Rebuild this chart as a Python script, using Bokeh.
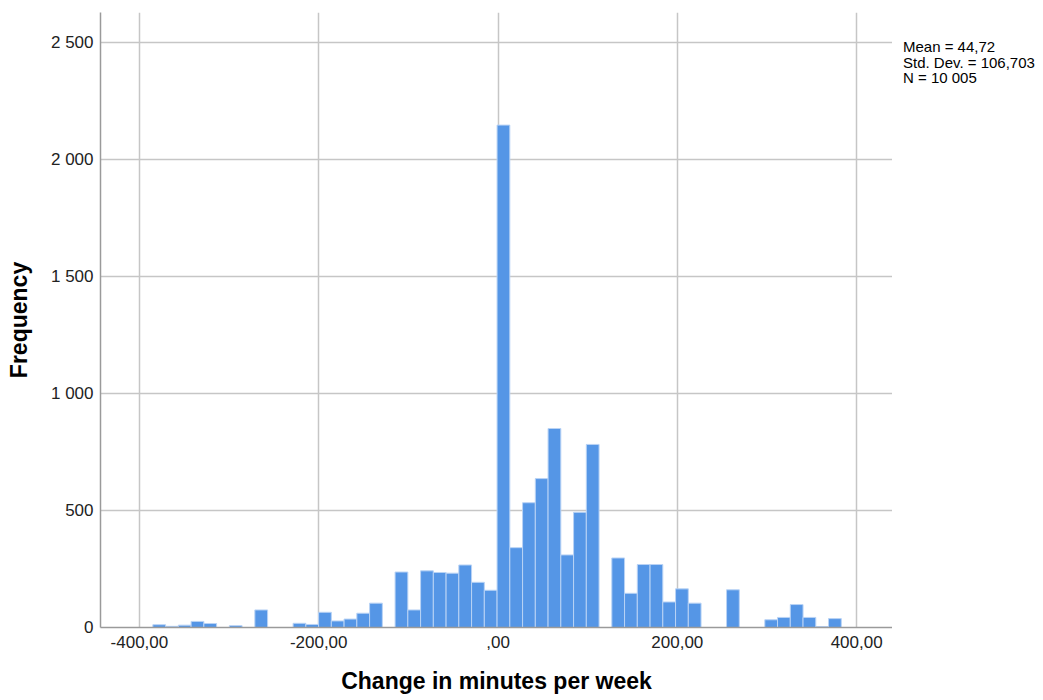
from bokeh.plotting import figure
from bokeh.models import FixedTicker, Range1d, ColumnDataSource, Div
from bokeh.layouts import row
from bokeh.embed import file_html
from bokeh.resources import INLINE

# ---- data ----
bin_left_edge = -385.0
bin_width = 14.22
counts = [12, 5, 10, 26, 17, 0, 8, 0, 75, 0, 0, 18, 13, 65, 28, 36, 61, 104, 0,
          237, 75, 242, 235, 232, 267, 193, 159,
          2146, 341, 533, 636, 850, 310, 492, 782, 0, 297, 146, 269, 269, 109,
          165, 104, 0, 0, 161, 0, 0, 33, 43, 98, 43, 4, 38]
x_ticks = [-400, -200, 0, 200, 400]
x_tick_labels = ["-400,00", "-200,00", ",00", "200,00", "400,00"]
y_ticks = [0, 500, 1000, 1500, 2000, 2500]
y_tick_labels = ["0", "500", "1 000", "1 500", "2 000", "2 500"]
stats_lines = ["Mean = 44,72", "Std. Dev. = 106,703", "N = 10 005"]

lefts, rights, tops = [], [], []
for i, c in enumerate(counts):
    if c > 0:
        lefts.append(bin_left_edge + i * bin_width)
        rights.append(bin_left_edge + (i + 1) * bin_width)
        tops.append(c)
src = ColumnDataSource(dict(left=lefts, right=rights, top=tops, bottom=[0] * len(tops)))

FONT = "Liberation Sans"

p = figure(width=892, height=700, output_backend="svg", toolbar_location=None,
           x_range=Range1d(-443.4, 440), y_range=Range1d(0, 2627),
           min_border_left=100, min_border_right=0, min_border_top=12, min_border_bottom=73)
p.outline_line_color = None
p.background_fill_color = "white"
p.border_fill_color = "white"

p.quad(left="left", right="right", top="top", bottom="bottom", source=src,
       fill_color="#5596e6", line_color="#b9d3f5", line_width=1)

for ax, ticks, labels in ((p.xaxis, x_ticks, x_tick_labels), (p.yaxis, y_ticks, y_tick_labels)):
    ax.ticker = FixedTicker(ticks=ticks)
    ax.major_label_overrides = {t: l for t, l in zip(ticks, labels)}
    ax.major_tick_out = 0
    ax.major_tick_in = 0
    ax.minor_tick_out = 0
    ax.minor_tick_in = 0
    ax.axis_line_color = "#9a9a9a"
    ax.axis_line_width = 1.5
    ax.major_label_text_font = FONT
    ax.major_label_text_font_size = "17px"
    ax.major_label_text_color = "#222222"
    ax.axis_label_text_font = FONT
    ax.axis_label_text_font_size = "23px"
    ax.axis_label_text_font_style = "bold"
    ax.axis_label_text_color = "#000000"

p.xaxis.axis_label = "Change in minutes per week"
p.yaxis.axis_label = "Frequency"
p.xaxis.major_label_standoff = 8
p.yaxis.major_label_standoff = 7
p.xaxis.axis_label_standoff = 17
p.yaxis.axis_label_standoff = 16

p.xgrid.ticker = FixedTicker(ticks=x_ticks)
p.ygrid.ticker = FixedTicker(ticks=y_ticks[1:])
for g in (p.xgrid, p.ygrid):
    g.grid_line_color = "#c6c6c6"
    g.grid_line_width = 1.5

stats = Div(text="<br>".join(stats_lines), width=151, height=700, margin=(0, 0, 0, 0),
            styles={"font-family": FONT, "font-size": "15px", "line-height": "15.5px",
                    "color": "#000000", "padding-top": "39px", "padding-left": "11px",
                    "white-space": "nowrap", "background-color": "white"})

layout = row(p, stats, spacing=0)
open("out.html", "w").write(file_html(layout, INLINE))
